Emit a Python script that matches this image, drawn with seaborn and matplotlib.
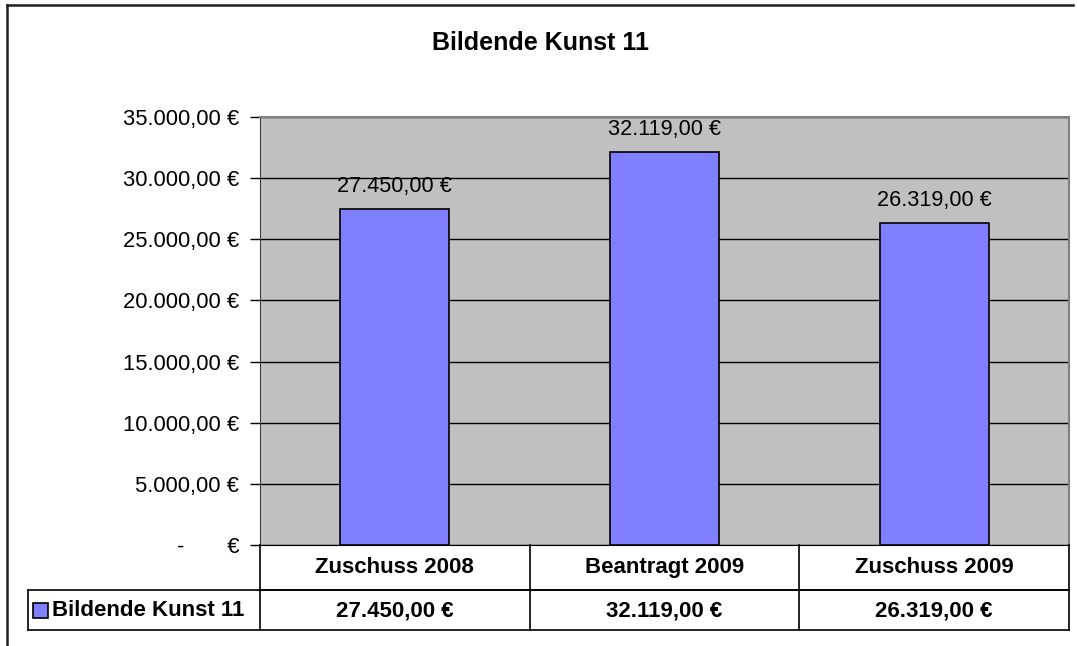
import matplotlib
matplotlib.use("Agg")
import matplotlib.pyplot as plt
import seaborn as sns
import pandas as pd
from matplotlib.lines import Line2D
from matplotlib.patches import Rectangle
from matplotlib.ticker import FuncFormatter, MultipleLocator

# ---- data ----
title = "Bildende Kunst 11"
series_name = "Bildende Kunst 11"
categories = ["Zuschuss 2008", "Beantragt 2009", "Zuschuss 2009"]
values = [27450.00, 32119.00, 26319.00]
y_max = 35000
y_step = 5000

def eur(v):
    if v == 0:
        return "-       €"
    s = f"{v:,.2f}".replace(",", "X").replace(".", ",").replace("X", ".")
    return s + " €"

plt.rcParams['font.family'] = ['Liberation Sans', 'DejaVu Sans']

W, H = 1077, 646
fig = plt.figure(figsize=(W / 100, H / 100), dpi=100)
fig.patch.set_facecolor("white")

def fx(px):
    return px / W

def fy(py):
    return (H - py) / H

ax_l, ax_r, ax_t, ax_b = 260, 1069, 117, 545
ax = fig.add_axes([fx(ax_l), fy(ax_b), fx(ax_r) - fx(ax_l), fy(ax_t) - fy(ax_b)])

df = pd.DataFrame({"cat": categories, "val": values})
sns.barplot(data=df, x="cat", y="val", color="#8080FF", saturation=1,
            edgecolor="black", linewidth=1.2, width=0.405, ax=ax, zorder=3)

ax.set_facecolor("#C0C0C0")
ax.set_xlim(-0.5, len(categories) - 0.5)
ax.set_ylim(0, y_max)
ax.yaxis.set_major_locator(MultipleLocator(y_step))
ax.yaxis.set_major_formatter(FuncFormatter(lambda v, p: eur(v)))
ax.grid(axis="y", color="black", linewidth=1.0, zorder=1)
ax.set_axisbelow(True)
ax.set_xlabel("")
ax.set_ylabel("")
ax.set_xticks([])
ax.tick_params(axis="y", labelsize=15.8, length=7, width=1, color="black", pad=8)
for side in ["top", "right"]:
    ax.spines[side].set_color("#808080")
    ax.spines[side].set_linewidth(1.5)
ax.spines["left"].set_color("#404040")
ax.spines["bottom"].set_color("black")

for i, v in enumerate(values):
    ax.annotate(eur(v), (i, v), xytext=(0, 9), textcoords="offset points",
                ha="center", va="bottom", fontsize=15.6, color="black", zorder=5)

fig.text(fx(540), fy(43), title, ha="center", va="center",
         fontsize=18, fontweight="bold")

# ---- data table below the axes ----
fig.canvas.draw()
xb = [ax.transData.transform((k - 0.5, 0))[0] for k in range(len(categories) + 1)]
row1_top, row1_bot, row2_bot = 545, 590, 630
leg_left = 28

def hline(x0, x1, y, lw=1.2, color="black"):
    fig.add_artist(Line2D([fx(x0), fx(x1)], [fy(y), fy(y)], color=color, lw=lw,
                          transform=fig.transFigure))

def vline(x, y0, y1, lw=1.2, color="black"):
    fig.add_artist(Line2D([fx(x), fx(x)], [fy(y0), fy(y1)], color=color, lw=lw,
                          transform=fig.transFigure))

hline(xb[0], xb[-1], row1_bot)
hline(leg_left, xb[-1], row1_bot)
hline(leg_left, xb[-1], row2_bot)
for x in xb:
    vline(x, row1_top, row2_bot)
vline(leg_left, row1_bot, row2_bot)

for i, (c, v) in enumerate(zip(categories, values)):
    xc = (xb[i] + xb[i + 1]) / 2
    fig.text(fx(xc), fy((row1_top + row1_bot) / 2), c, ha="center", va="center",
             fontsize=16, fontweight="bold")
    fig.text(fx(xc), fy((row1_bot + row2_bot) / 2 + 1), eur(v), ha="center", va="center",
             fontsize=16, fontweight="bold")

# legend key in table
fig.add_artist(Rectangle((fx(33), fy(618)), fx(48) - fx(33), fy(603) - fy(618),
                         facecolor="#8080FF", edgecolor="black", lw=1.2,
                         transform=fig.transFigure))
fig.text(fx(52), fy(611), series_name, ha="left", va="center",
         fontsize=16, fontweight="bold")

# outer chart border (top and left visible)
fig.add_artist(Line2D([fx(7), fx(1073)], [fy(5), fy(5)], color="#202020", lw=1.8,
                      transform=fig.transFigure))
fig.add_artist(Line2D([fx(7), fx(7)], [fy(5), fy(646)], color="#202020", lw=1.8,
                      transform=fig.transFigure))

fig.savefig("out.png", dpi=100, facecolor="white")
